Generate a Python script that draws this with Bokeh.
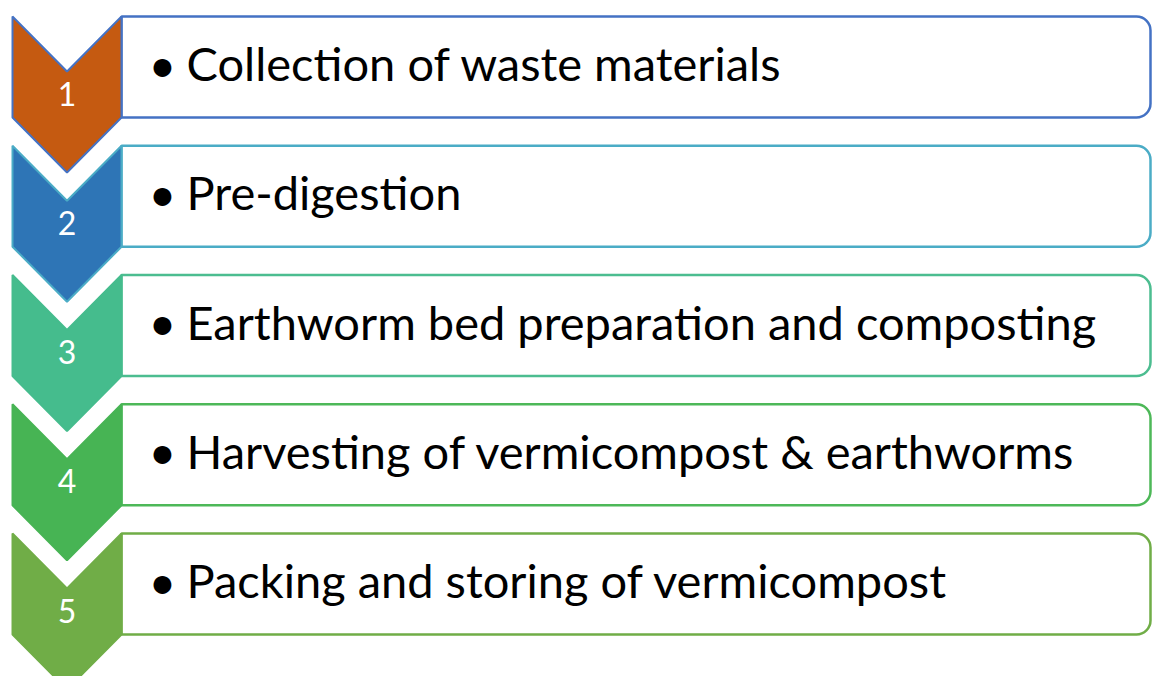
from bokeh.plotting import figure
from bokeh.models import Range1d, ColumnDataSource
from bokeh.core.properties import value
from bokeh.embed import file_html
from bokeh.resources import INLINE

# ---- data ----
step_numbers = ["1", "2", "3", "4", "5"]
step_labels = [
    "Collection of waste materials",
    "Pre-digestion",
    "Earthworm bed preparation and composting",
    "Harvesting of vermicompost & earthworms",
    "Packing and storing of vermicompost",
]

# ---- styles ----
chevron_fill = ["#C55A11", "#2E75B6", "#45BC8D", "#47B454", "#70AD47"]
chevron_line = ["#4472C4", "#4BACC6", "#45BC8D", "#47B454", "#70AD47"]
box_line = ["#4472C4", "#4BACC6", "#4CBD90", "#4DB858", "#70AD47"]

# ---- layout constants (pixels) ----
W, H = 1152, 676
TOP0 = 16.0
PITCH = 129.25
BOX_H = 101.0
CH_LEFT, CH_RIGHT = 12.0, 121.0
NOTCH = 55.0
BOX_RIGHT = 1150.0
BULLET_X = 148.0
TEXT_X = 186.0

n = len(step_numbers)
tops = [TOP0 + i * PITCH for i in range(n)]
bottoms = [t + BOX_H for t in tops]
mids = [(t + b) / 2 for t, b in zip(tops, bottoms)]
cx = (CH_LEFT + CH_RIGHT) / 2

xs, ys = [], []
for t, b in zip(tops, bottoms):
    xs.append([CH_LEFT, cx, CH_RIGHT, CH_RIGHT, cx, CH_LEFT])
    ys.append([t, t + NOTCH, t, b, b + NOTCH, b])

p = figure(width=W, height=H,
           x_range=Range1d(0, W),
           y_range=Range1d(H, 0),
           x_axis_type=None, y_axis_type=None,
           output_backend="svg", toolbar_location=None,
           min_border=0)
p.grid.visible = False
p.outline_line_color = None
p.background_fill_color = "white"
p.border_fill_color = "white"

box_src = ColumnDataSource(dict(left=[CH_RIGHT] * n, right=[BOX_RIGHT] * n,
                                top=tops, bottom=bottoms, line=box_line))
p.quad(left="left", right="right", top="top", bottom="bottom", source=box_src,
       fill_color="white", line_color="line", line_width=2.5,
       border_radius=(0, 14, 14, 0))

ch_src = ColumnDataSource(dict(xs=xs, ys=ys, fill=chevron_fill, line=chevron_line))
p.patches("xs", "ys", source=ch_src, fill_color="fill", line_color="line", line_width=2)

num_src = ColumnDataSource(dict(x=[cx] * n, y=[t + 77 for t in tops], text=step_numbers))
p.text(x="x", y="y", text="text", source=num_src, text_color="white",
       text_font=value("Lato"), text_font_size="32px",
       text_align="center", text_baseline="middle")

bul_src = ColumnDataSource(dict(x=[BULLET_X] * n, y=[m - 4 for m in mids], text=["\u2022"] * n))
p.text(x="x", y="y", text="text", source=bul_src, text_color="black",
       text_font=value("Lato"), text_font_size="48px",
       text_align="left", text_baseline="middle")

lab_src = ColumnDataSource(dict(x=[TEXT_X] * n, y=[m - 4 for m in mids], text=step_labels))
p.text(x="x", y="y", text="text", source=lab_src, text_color="black",
       text_font=value("Lato"), text_font_size="47px",
       text_align="left", text_baseline="middle")

open("out.html", "w").write(file_html(p, INLINE))
